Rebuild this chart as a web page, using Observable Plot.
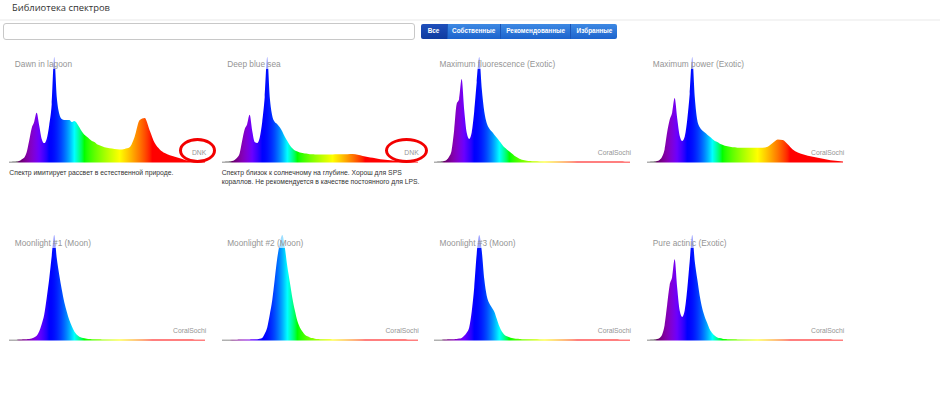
<!DOCTYPE html>
<html>
<head>
<meta charset="utf-8">
<script src="https://cdn.jsdelivr.net/npm/d3@7"></script>
<script src="https://cdn.jsdelivr.net/npm/@observablehq/plot@0.6"></script>
<style>
  html, body { margin: 0; padding: 0; background: #fff; }
  body { width: 940px; height: 394px; position: relative; overflow: hidden; font-family: "Liberation Sans", Arial, sans-serif; }
  .abs { position: absolute; }
  #hdr { left: 12px; top: 2px; font-family: "Open Sans", sans-serif; font-size: 9.4px; line-height: 12px; color: #333; white-space: nowrap; }
  #hr { left: 0; top: 19px; width: 940px; height: 2px; background: #f4f4f4; }
  #search { left: 3px; top: 23px; width: 412px; height: 17px; box-sizing: border-box; border: 1px solid #c8c8c8; border-radius: 3px; background: #fff; }
  #btns { left: 420.5px; top: 24px; height: 14.5px; display: flex; border-radius: 2px; overflow: hidden; }
  .btn { height: 14.5px; line-height: 14.5px; color: #fff; font-weight: bold; font-size: 6.4px; text-align: center; white-space: nowrap;
         background: linear-gradient(#3d89e3, #1c63cd); border-left: 1px solid #1a56b8; box-sizing: border-box; }
  .btn.active { background: linear-gradient(#1f4fbb, #0f3b9f); border-left: none; }
  .chart { position: absolute; width: 196px; height: 106px; }
  .title { position: absolute; left: 3px; top: -1.5px; padding: 4px 2.5px 0 2.5px; line-height: 10px; font-size: 8.3px; color: #959595;
           background: rgba(255,255,255,0.62); white-space: nowrap; }
  .author { position: absolute; left: 0; width: 197px; top: 92px; text-align: right; font-size: 6.8px; line-height: 8px; color: #959595; white-space: nowrap; }
  .desc { position: absolute; font-size: 6.8px; line-height: 9.3px; color: #333; white-space: nowrap; }
  .mark { position: absolute; box-sizing: border-box; border: 3px solid #f20000; border-radius: 50%; }
</style>
</head>
<body>
<div id="hdr" class="abs">Библиотека спектров</div>
<div id="hr" class="abs"></div>
<div id="search" class="abs"></div>
<div id="btns" class="abs"></div>
<script>
// ---------- data ----------
const filters = ["Все", "Собственные", "Рекомендованные", "Избранные"];

const wavelengths = [360,365,370,375,380,385,390,395,400,405,410,415,420,425,430,435,440,445,450,455,
  460,465,470,475,480,485,490,495,500,505,510,515,520,525,530,535,540,545,550,555,560,
  570,580,590,600,610,620,630,640,650,660,670,680,690,700,710,720,730,740,750];

const titles = ["Dawn in lagoon", "Deep blue sea", "Maximum fluorescence (Exotic)", "Maximum power (Exotic)",
  "Moonlight #1 (Moon)", "Moonlight #2 (Moon)", "Moonlight #3 (Moon)", "Pure actinic (Exotic)"];
const authors = ["DNK", "DNK", "CoralSochi", "CoralSochi", "CoralSochi", "CoralSochi", "CoralSochi", "CoralSochi"];
const descriptions = [
  ["Спектр имитирует рассвет в естественной природе."],
  ["Спектр близок к солнечному на глубине. Хорош для SPS", "кораллов. Не рекомендуется в качестве постоянного для LPS."],
  [], [], [], [], [], []
];

const dawnInLagoon = [0.3,0.3,0.4,0.6,1,2.5,4,9,20,32,38,47,35,22,18,22,35,55,100,62,
  46,41,40,40,40,38,39,37,33,29,26,24,22,20,19,17,16,15,14,13.5,13,
  12.5,12,12.5,14,24,40,42,30,18,12,8.5,6.5,5,3.5,2,1.2,0.8,0.5,0.3];
const deepBlueSea = [0.3,0.3,0.4,0.6,1,2,4,8,20,31,36,45,30,19,18,23,38,62,100,62,
  44,38,36,33,29,24,20,16,13,11,10,9,8.5,8,7.8,7.5,7.3,7.2,7.2,7.2,7.2,
  7.2,7.2,7.3,7.4,7.5,7.6,6.8,5.8,4.8,4,3.2,2.5,1.9,1.4,1,0.7,0.5,0.3,0.2];
const maxFluorescence = [0.3,0.3,0.4,0.6,1,2,5,11,30,55,60,79,50,28,22,28,48,76,100,70,
  48,37,32,29,26,23,20,17,14,12,10,8,6,4.5,3,2.2,1.6,1.2,0.9,0.7,0.6,
  0.5,0.5,0.5,0.5,0.5,0.5,0.5,0.5,0.5,0.5,0.5,0.5,0.5,0.5,0.5,0.4,0.4,0.3,0.3];
const maxPower = [0.3,0.3,0.4,0.6,1,2,5,12,28,40,47,61,42,25,20,24,40,65,100,62,
  40,33,30,28,26,24,22,20,19,17.5,16.5,15.5,15,14.5,14,14,13.5,13.5,13.5,13.5,13.5,
  13.5,13.5,13.5,14.5,18,21.5,21,17,12,9,7.5,6,5,4,3,2.2,1.5,0.9,0.4];
const moonlight1 = [0.2,0.2,0.3,0.3,0.4,0.5,0.6,0.8,1,1.5,2.5,4,8,15,24,40,58,80,100,78,
  62,48,36,27,19,13,8,5,3.2,2.2,1.6,1.2,0.9,0.8,0.7,0.6,0.6,0.5,0.5,0.5,0.5,
  0.5,0.5,0.5,0.5,0.5,0.5,0.5,0.5,0.5,0.5,0.5,0.5,0.5,0.5,0.4,0.4,0.3,0.3,0.2];
const moonlight2 = [0.2,0.2,0.2,0.3,0.3,0.3,0.3,0.4,0.4,0.5,0.5,0.5,0.6,0.6,0.8,1.2,2,6,12,24,
  38,58,78,92,100,88,70,55,40,28,18,12,8,5,3.5,2.5,1.8,1.3,1,0.8,0.7,
  0.6,0.5,0.5,0.5,0.5,0.5,0.5,0.5,0.5,0.5,0.5,0.5,0.5,0.5,0.4,0.4,0.3,0.3,0.2];
const moonlight3 = [0.2,0.2,0.3,0.3,0.4,0.5,0.6,0.7,0.8,1,1.4,2,4,7,12,27,50,82,100,85,
  58,42,35,31,27,20,13,8,5,3.5,2.7,2,1.5,1.1,0.9,0.8,0.7,0.7,0.6,0.6,0.6,
  0.5,0.5,0.5,0.5,0.5,0.5,0.5,0.5,0.5,0.5,0.5,0.5,0.5,0.5,0.4,0.4,0.3,0.3,0.2];
const pureActinic = [0.3,0.3,0.4,0.6,1,2,5,14,33,52,60,77,50,28,22,28,48,75,100,75,
  58,42,30,22,16,10,6.5,4,2.5,1.8,1.3,1,0.8,0.7,0.6,0.6,0.5,0.5,0.5,0.5,0.5,
  0.5,0.5,0.5,0.5,0.5,0.5,0.5,0.5,0.5,0.5,0.5,0.5,0.5,0.5,0.4,0.4,0.3,0.3,0.2];

const spectra = [dawnInLagoon, deepBlueSea, maxFluorescence, maxPower, moonlight1, moonlight2, moonlight3, pureActinic];

// ---------- layout ----------
const colLeft = [9.3, 221.7, 434, 647.3];
const rowTop = [56.5, 235];

const btnWidths = [26, 53.3, 70.7, 47];
const btns = document.getElementById("btns");
filters.forEach((f, i) => {
  const b = document.createElement("div");
  b.className = "btn" + (i === 0 ? " active" : "");
  b.style.width = btnWidths[i] + "px";
  b.textContent = f;
  btns.appendChild(b);
});

function waveColor(wl) {
  let r, g, b;
  if (wl < 380) { r = 0.55; g = 0.55; b = 0.55; }
  else if (wl < 440) { r = -(wl - 440) / 60; g = 0; b = 1; }
  else if (wl < 490) { r = 0; g = Math.pow((wl - 440) / 50, 2.2); b = 1; }
  else if (wl < 510) { r = 0; g = 1; b = -(wl - 510) / 20; }
  else if (wl < 580) { r = (wl - 510) / 70; g = 1; b = 0; }
  else if (wl < 645) { r = 1; g = -(wl - 645) / 65; b = 0; }
  else { r = 1; g = 0; b = 0; }
  let f = 1;
  if (wl < 380) f = 0.55;
  else if (wl < 420) f = 0.3 + 0.7 * (wl - 380) / 40;
  const c = v => Math.round(255 * Math.pow(v * f, 0.8));
  return `rgb(${c(r)},${c(g)},${c(b)})`;
}

const NS = "http://www.w3.org/2000/svg";

spectra.forEach((values, i) => {
  const rows = wavelengths.map((wl, k) => ({wl, v: values[k]}));
  const gid = "spec" + i;
  const chart = Plot.plot({
    width: 196, height: 106,
    marginTop: 0, marginBottom: 1, marginLeft: 0, marginRight: 0,
    x: {domain: [360, 750], axis: null},
    y: {domain: [0, 100], axis: null},
    style: {background: "transparent", overflow: "visible"},
    marks: [
      Plot.ruleY([0], {stroke: `url(#${gid})`, strokeWidth: 1, strokeOpacity: 0.5}),
      Plot.areaY(rows, {x: "wl", y: "v", fill: `url(#${gid})`, curve: "monotone-x"})
    ]
  });
  const xs = chart.scale("x");
  const [d0, d1] = xs.domain;
  const [r0, r1] = xs.range;
  const defs = document.createElementNS(NS, "defs");
  const lg = document.createElementNS(NS, "linearGradient");
  lg.setAttribute("id", gid);
  lg.setAttribute("gradientUnits", "userSpaceOnUse");
  lg.setAttribute("x1", r0); lg.setAttribute("x2", r1);
  lg.setAttribute("y1", 0); lg.setAttribute("y2", 0);
  for (let wl = d0; wl <= d1; wl += 5) {
    const s = document.createElementNS(NS, "stop");
    s.setAttribute("offset", (wl - d0) / (d1 - d0));
    s.setAttribute("stop-color", waveColor(wl));
    lg.appendChild(s);
  }
  defs.appendChild(lg);
  chart.insertBefore(defs, chart.firstChild);

  const col = i % 4, row = Math.floor(i / 4);
  const box = document.createElement("div");
  box.className = "chart";
  box.style.left = colLeft[col] + "px";
  box.style.top = rowTop[row] + "px";
  box.appendChild(chart);

  const t = document.createElement("div");
  t.className = "title";
  t.textContent = titles[i];
  box.appendChild(t);

  const a = document.createElement("div");
  a.className = "author";
  a.textContent = authors[i];
  box.appendChild(a);
  document.body.appendChild(box);

  if (descriptions[i].length) {
    const d = document.createElement("div");
    d.className = "desc";
    d.style.left = colLeft[col] + "px";
    d.style.top = (rowTop[row] + 111.6) + "px";
    d.innerHTML = descriptions[i].map(s => s.replace(/&/g, "&amp;").replace(/</g, "&lt;")).join("<br>");
    document.body.appendChild(d);
  }
});

// hand-drawn red highlight around the "DNK" authors
[[179, 138, 37, 25], [385, 138, 43, 25]].forEach(([l, tp, w, h]) => {
  const m = document.createElement("div");
  m.className = "mark";
  Object.assign(m.style, {left: l + "px", top: tp + "px", width: w + "px", height: h + "px"});
  document.body.appendChild(m);
});
</script>
</body>
</html>
